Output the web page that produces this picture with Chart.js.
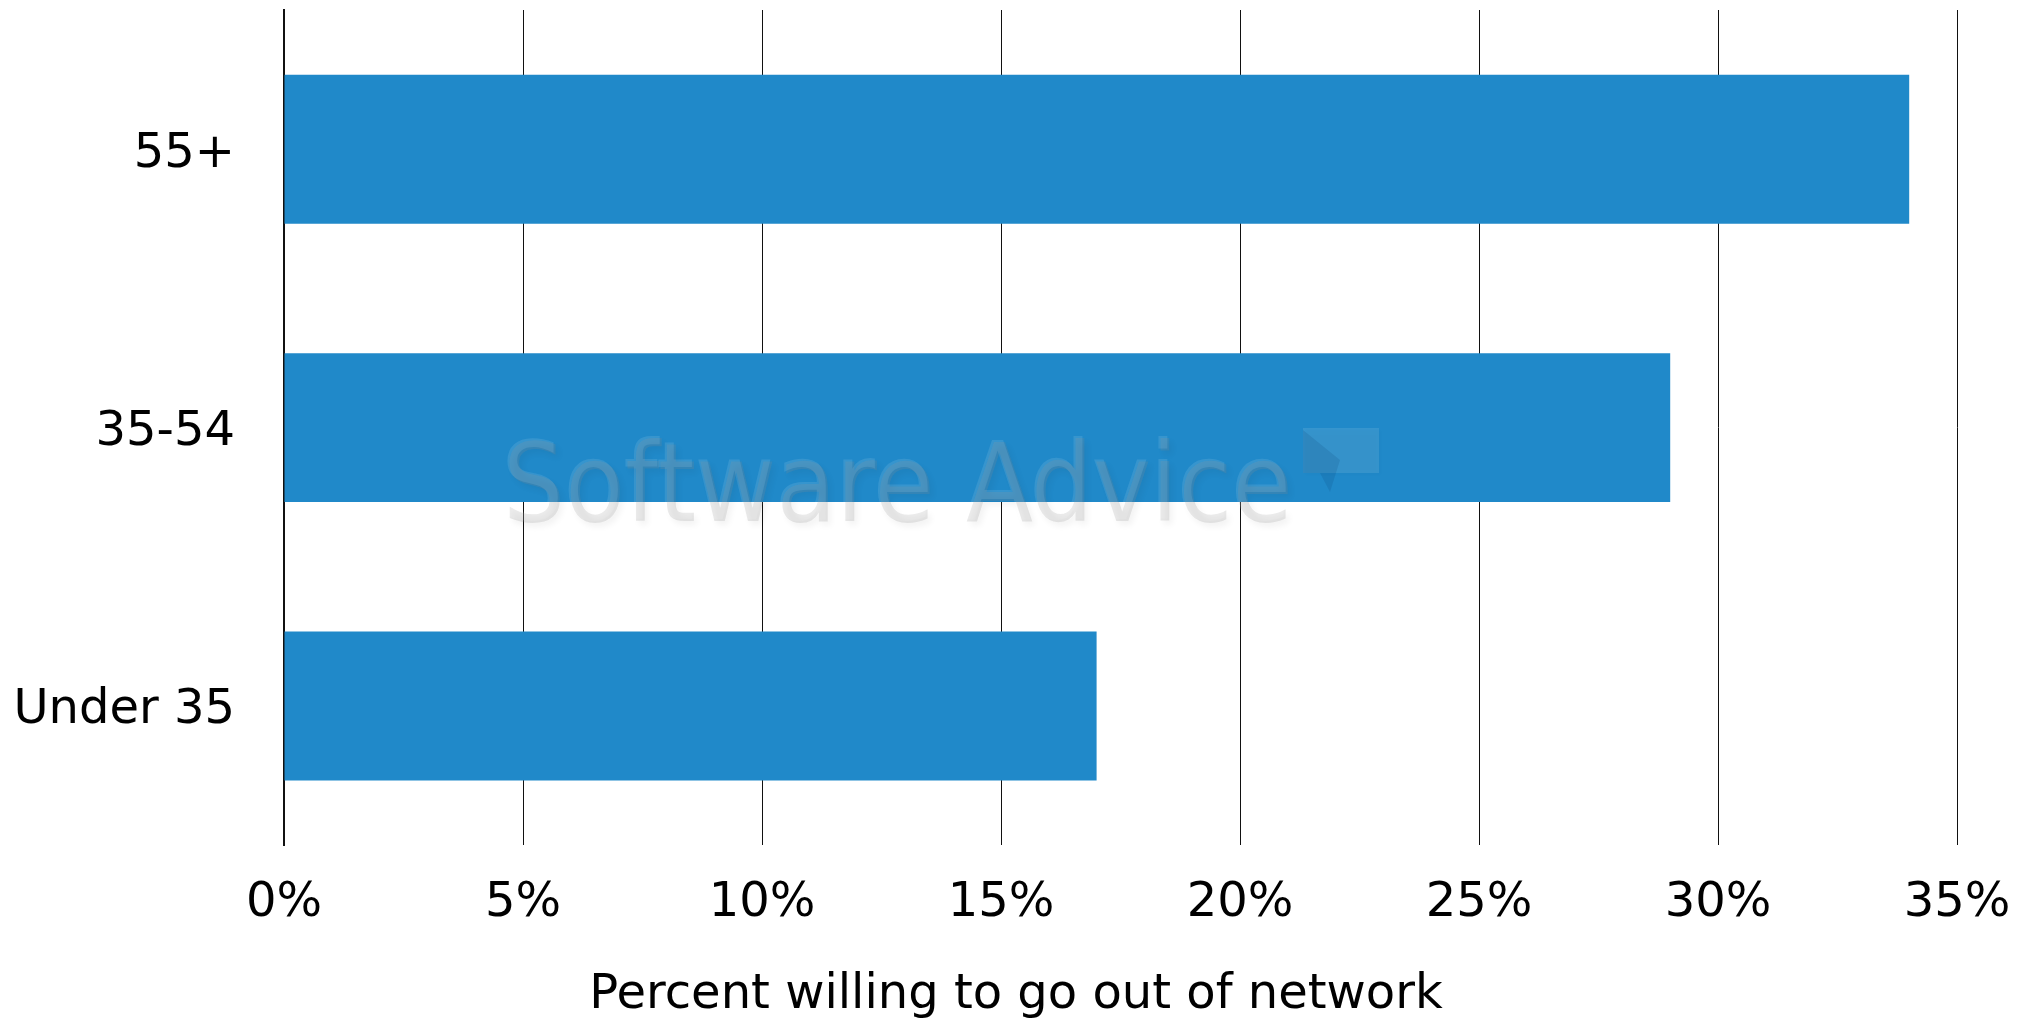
<!DOCTYPE html>
<html>
<head>
<meta charset="utf-8">
<title>Percent willing to go out of network</title>
<script src="https://cdn.jsdelivr.net/npm/chart.js@4"></script>
<style>
    html, body { margin: 0; padding: 0; background: #fff; }
    #wrap { width: 2032px; height: 1022px; }
</style>
</head>
<body>
<div id="wrap"><canvas id="chart"></canvas></div>
<script>
const ageGroups = ['55+', '35-54', 'Under 35'];
const willingPct = [34, 29, 17];
const tickMax = 35;
const tickStep = 5;

const barColor = '#2089c9';
const fontFamily = '"DejaVu Sans", Verdana, sans-serif';

// faint "Software Advice" mark over the plot
const watermark = {
    id: 'watermark',
    afterDatasetsDraw(chart) {
        const ctx = chart.ctx;
        ctx.save();
        ctx.font = '109px "DejaVu Sans Condensed", "DejaVu Sans", sans-serif';
        ctx.textBaseline = 'alphabetic';
        // darker face with a soft drop shadow, then a light edge
        ctx.shadowColor = 'rgba(0,0,0,0.25)';
        ctx.shadowBlur = 6;
        ctx.shadowOffsetX = 3;
        ctx.shadowOffsetY = 4;
        ctx.fillStyle = 'rgba(140,140,140,0.2)';
        ctx.fillText('Software Advice', 503, 521);
        ctx.shadowColor = 'transparent';
        ctx.fillStyle = 'rgba(255,255,255,0.10)';
        ctx.fillText('Software Advice', 501, 519);

        // little speech bubble
        ctx.shadowColor = 'rgba(0,0,0,0.15)';
        ctx.shadowBlur = 4;
        ctx.shadowOffsetX = 2;
        ctx.shadowOffsetY = 2;
        ctx.fillStyle = 'rgba(255,255,255,0.10)';
        ctx.beginPath();
        ctx.rect(1303, 428, 76, 45);
        ctx.fill();
        ctx.shadowColor = 'transparent';
        ctx.fillStyle = 'rgba(0,40,90,0.12)';
        ctx.beginPath();
        ctx.moveTo(1303, 430);
        ctx.lineTo(1340, 460);
        ctx.lineTo(1330, 492);
        ctx.lineTo(1320, 473);
        ctx.lineTo(1303, 473);
        ctx.closePath();
        ctx.fill();
        ctx.restore();
    }
};

new Chart(document.getElementById('chart'), {
    type: 'bar',
    data: {
        labels: ageGroups,
        datasets: [{
            label: 'Percent willing to go out of network',
            data: willingPct,
            backgroundColor: barColor,
            borderWidth: 0,
            barPercentage: 0.535,
            categoryPercentage: 1,
        }]
    },
    plugins: [watermark],
    options: {
        indexAxis: 'y',
        responsive: true,
        maintainAspectRatio: false,
        animation: false,
        layout: {
            padding: { top: 10, right: 0, left: 0, bottom: 0 }
        },
        scales: {
            x: {
                min: 0,
                max: tickMax,
                ticks: {
                    stepSize: tickStep,
                    padding: 30,
                    color: '#000',
                    font: { family: fontFamily, size: 48 },
                    callback: (v) => v + '%',
                },
                grid: {
                    display: true,
                    drawTicks: false,
                    color: '#111',
                    lineWidth: 1,
                },
                border: { display: false },
                afterFit: (scale) => {
                    scale.height = 124;
                    scale.paddingRight = 75;
                },
            },
            y: {
                ticks: {
                    padding: 49,
                    labelOffset: 5,
                    color: '#000',
                    font: { family: fontFamily, size: 48 },
                },
                grid: { display: false, drawTicks: false },
                border: { display: true, color: '#111', width: 2 },
                afterFit: (scale) => {
                    scale.width = 284;
                    scale.paddingTop = 0;
                    scale.paddingBottom = 0;
                },
            }
        },
        plugins: {
            legend: { display: false },
            tooltip: { enabled: false },
            title: {
                display: true,
                position: 'bottom',
                text: 'Percent willing to go out of network',
                color: '#000',
                font: { family: fontFamily, size: 48, weight: 'normal', lineHeight: 1.1 },
                padding: { top: 0, bottom: 0 },
            }
        }
    }
});
</script>
</body>
</html>
